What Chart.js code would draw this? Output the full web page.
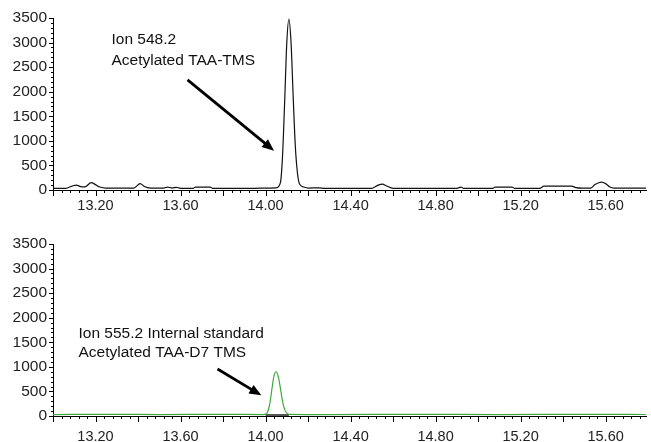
<!DOCTYPE html>
<html>
<head>
<meta charset="utf-8">
<script src="https://cdn.jsdelivr.net/npm/chart.js@4.4.1/dist/chart.umd.min.js"></script>
<style>
  body { margin: 0; background: #fff; }
  .box { width: 651px; height: 221px; }
</style>
</head>
<body>
<div class="box"><canvas id="top" width="651" height="221"></canvas></div>
<div class="box"><canvas id="bottom" width="651" height="221"></canvas></div>
<script>
// retention time labels (min) and intensity labels
var xTickLabels = [13.2, 13.6, 14.0, 14.4, 14.8, 15.2, 15.6];
var yTickLabels = [0, 500, 1000, 1500, 2000, 2500, 3000, 3500];

// Ion 548.2 trace (black)
var ion548Time = [13.00, 13.06, 13.09, 13.11, 13.13, 13.15, 13.18, 13.20, 13.22, 13.25,
  13.38, 13.41, 13.43, 13.46, 13.52, 13.54, 13.56, 13.58, 13.60, 13.66, 13.67, 13.74, 13.75,
  13.95, 14.00, 14.05, 14.07, 14.08, 14.09, 14.10, 14.11, 14.12, 14.13, 14.14, 14.15, 14.16,
  14.18, 14.20, 14.25, 14.28, 14.50, 14.53, 14.55, 14.57, 14.60, 14.90, 14.92, 14.93,
  15.07, 15.08, 15.16, 15.17, 15.29, 15.31, 15.44, 15.46, 15.49, 15.53, 15.55, 15.58,
  15.60, 15.62, 15.64, 15.80];
var ion548Abund = [35, 35, 80, 100, 70, 65, 150, 110, 60, 40,
  40, 130, 70, 40, 40, 60, 40, 55, 35, 35, 60, 60, 35,
  35, 40, 45, 150, 700, 1800, 3000, 3480, 3000, 1900, 900, 350, 120,
  60, 40, 45, 35, 35, 100, 120, 80, 35, 35, 60, 35,
  35, 60, 60, 35, 35, 80, 80, 50, 40, 40, 110, 160,
  130, 60, 40, 40];

// Ion 555.2 trace (green, internal standard)
var ion555Time = [13.00, 13.30, 13.50, 13.80, 13.99, 14.00, 14.01, 14.02, 14.03, 14.04,
  14.05, 14.06, 14.07, 14.08, 14.09, 14.10, 14.11, 14.30, 14.70, 15.10, 15.50, 15.80];
var ion555Abund = [30, 35, 30, 35, 30, 40, 80, 250, 550, 820,
  900, 800, 560, 300, 130, 60, 35, 30, 35, 30, 35, 30];

// integration baseline under the internal standard peak
var baseTime = [14.00, 14.11];
var baseAbund = [15, 15];

var xMin = 13.0, xMax = 15.79, yMax = 3500;
var FONT = "'Liberation Sans', Arial, sans-serif";

function pairs(xs, ys) {
  var out = [];
  for (var i = 0; i < xs.length; i++) out.push({x: xs[i], y: ys[i]});
  return out;
}

function drawTicks(chart) {
  var ctx = chart.ctx, xs = chart.scales.x, ys = chart.scales.y;
  var bottom = chart.chartArea.bottom, left = chart.chartArea.left;
  ctx.save();
  ctx.strokeStyle = '#000';
  ctx.lineWidth = 1;
  ctx.beginPath();
  // minor every 0.04 min, longer every 0.2 min
  for (var i = 0; i <= 69; i++) {
    var px = Math.round(xs.getPixelForValue(xMin + i * 0.04)) + 0.5;
    var len = (i % 5 === 0) ? 6 : 3;
    ctx.moveTo(px, bottom);
    ctx.lineTo(px, bottom + len);
  }
  // minor every 100, longer every 500
  for (var j = 0; j <= 35; j++) {
    var py = Math.round(ys.getPixelForValue(j * 100)) + 0.5;
    var l2 = (j % 5 === 0) ? 4 : 2;
    ctx.moveTo(left, py);
    ctx.lineTo(left - l2, py);
  }
  ctx.stroke();
  ctx.restore();
}

// tick marks, text labels and arrow placed in data coordinates
var notes = {
  id: 'notes',
  afterDatasetsDraw: function(chart, args, opts) {
    drawTicks(chart);
    var ctx = chart.ctx, xs = chart.scales.x, ys = chart.scales.y;
    ctx.save();
    ctx.fillStyle = '#111';
    ctx.font = '15.5px ' + FONT;
    ctx.textBaseline = 'middle';
    for (var i = 0; i < opts.lines.length; i++) {
      var ln = opts.lines[i];
      ctx.fillText(ln.text, xs.getPixelForValue(ln.x), ys.getPixelForValue(ln.y));
    }
    var a = opts.arrow;
    var x1 = xs.getPixelForValue(a.from[0]), y1 = ys.getPixelForValue(a.from[1]);
    var x2 = xs.getPixelForValue(a.to[0]), y2 = ys.getPixelForValue(a.to[1]);
    var ang = Math.atan2(y2 - y1, x2 - x1);
    var hl = 12, hw = 5;
    ctx.strokeStyle = '#000';
    ctx.lineWidth = 2.8;
    ctx.beginPath();
    ctx.moveTo(x1, y1);
    ctx.lineTo(x2 - Math.cos(ang) * hl * 0.8, y2 - Math.sin(ang) * hl * 0.8);
    ctx.stroke();
    ctx.fillStyle = '#000';
    ctx.beginPath();
    ctx.moveTo(x2, y2);
    ctx.lineTo(x2 - Math.cos(ang) * hl - Math.sin(ang) * hw, y2 - Math.sin(ang) * hl + Math.cos(ang) * hw);
    ctx.lineTo(x2 - Math.cos(ang) * hl + Math.sin(ang) * hw, y2 - Math.sin(ang) * hl - Math.cos(ang) * hw);
    ctx.closePath();
    ctx.fill();
    ctx.restore();
  }
};

function makeChart(id, datasets, padTop, xAxisH, labelPad, noteOpts) {
  return new Chart(document.getElementById(id).getContext('2d'), {
    type: 'line',
    data: { datasets: datasets },
    plugins: [notes],
    options: {
      responsive: false,
      animation: false,
      events: [],
      layout: { padding: { top: padTop, right: 5, left: 0, bottom: 0 } },
      elements: { point: { radius: 0 }, line: { tension: 0.3, cubicInterpolationMode: 'monotone' } },
      plugins: { legend: { display: false }, tooltip: { enabled: false }, notes: noteOpts },
      scales: {
        x: {
          type: 'linear', min: xMin, max: xMax,
          grid: { display: false, drawTicks: false, tickLength: 0 },
          border: { display: true, color: '#000', width: 1 },
          afterBuildTicks: function(s) { s.ticks = xTickLabels.map(function(v) { return {value: v}; }); },
          afterFit: function(s) { s.height = xAxisH; },
          ticks: {
            autoSkip: false, maxRotation: 0, padding: labelPad, color: '#222',
            font: { family: FONT, size: 14.5 },
            callback: function(v) { return v.toFixed(2); }
          }
        },
        y: {
          min: 0, max: yMax,
          grid: { display: false, drawTicks: false, tickLength: 0 },
          border: { display: true, color: '#000', width: 1 },
          afterBuildTicks: function(s) { s.ticks = yTickLabels.map(function(v) { return {value: v}; }); },
          afterFit: function(s) { s.width = 53; },
          ticks: {
            padding: 6, color: '#222', font: { family: FONT, size: 15.5 },
            callback: function(v) { return String(v); }
          }
        }
      }
    }
  });
}

makeChart('top', [{
  data: pairs(ion548Time, ion548Abund),
  borderColor: '#111', borderWidth: 1.2, fill: false
}], 18, 31, 7, {
  lines: [
    { text: 'Ion 548.2', x: 13.275, y: 3050 },
    { text: 'Acetylated TAA-TMS', x: 13.275, y: 2640 }
  ],
  arrow: { from: [13.633, 2240], to: [14.04, 800] }
});

makeChart('bottom', [{
  data: pairs(ion555Time, ion555Abund),
  borderColor: '#3ea83e', borderWidth: 1.2, fill: false
}, {
  data: pairs(baseTime, baseAbund),
  borderColor: '#555', borderWidth: 2.5, fill: false
}], 23, 26, 12, {
  lines: [
    { text: 'Ion 555.2 Internal standard', x: 13.12, y: 1670 },
    { text: 'Acetylated TAA-D7 TMS', x: 13.12, y: 1280 }
  ],
  arrow: { from: [13.774, 956], to: [13.98, 420] }
});
</script>
</body>
</html>
